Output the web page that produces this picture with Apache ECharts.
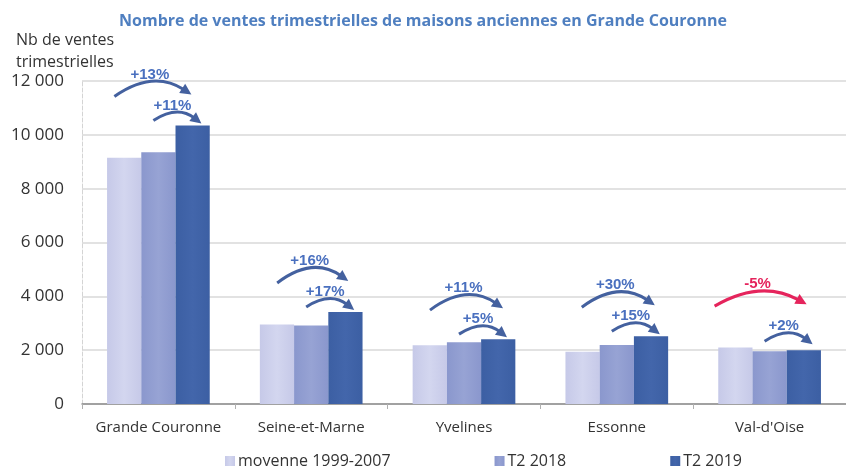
<!DOCTYPE html>
<html>
<head>
<meta charset="utf-8">
<script src="https://cdn.jsdelivr.net/npm/echarts@6/dist/echarts.min.js"></script>
<style>
  html, body { margin: 0; padding: 0; background: #fff; }
  #chart { width: 846px; height: 466px; }
</style>
</head>
<body>
<div id="chart"></div>
<script>
// Données
const categories = ['Grande Couronne', 'Seine-et-Marne', 'Yvelines', 'Essonne', "Val-d'Oise"]
const moyenne = [9150, 2950, 2180, 1940, 2100]
const t2018 = [9350, 2920, 2290, 2190, 1960]
const t2019 = [10350, 3420, 2410, 2520, 2000]
const evolMoyenne = ['+13%', '+16%', '+11%', '+30%', '-5%']
const evolAnnuelle = ['+11%', '+17%', '+5%', '+15%', '+2%']
const yTicks = [0, 2000, 4000, 6000, 8000, 10000, 12000]

const FONT = '"Open Sans", "Liberation Sans", sans-serif'
const BLUE_ARROW = '#44619f'
const BLUE_TEXT = '#4a70bf'
const RED = '#e5245c'

const chart = echarts.init(document.getElementById('chart'))

const barGradient = (edge, mid) => ({
  type: 'linear', x: 0, y: 0, x2: 1, y2: 0,
  colorStops: [
    { offset: 0, color: edge },
    { offset: 0.5, color: mid },
    { offset: 1, color: edge }
  ]
})

const fmt = v => String(v).replace(/\B(?=(\d{3})+(?!\d))/g, ' ')

const barSeries = (name, data, edge, mid) => ({
  name,
  type: 'bar',
  data,
  barWidth: '22.4%',
  barGap: '0%',
  itemStyle: { color: barGradient(edge, mid) },
  emphasis: { disabled: true }
})

chart.setOption({
  animation: false,
  textStyle: { fontFamily: FONT },
  title: [
    {
      text: 'Nombre de ventes trimestrielles de maisons anciennes en Grande Couronne',
      left: 'center',
      top: 8,
      textStyle: { fontFamily: FONT, fontSize: 16, fontWeight: 'bold', color: '#4f7fc0' }
    },
    {
      text: 'Nb de ventes\ntrimestrielles',
      left: 11,
      top: 24,
      textStyle: { fontFamily: FONT, fontSize: 16, fontWeight: 'normal', color: '#333', lineHeight: 22 }
    }
  ],
  legend: {
    bottom: -8,
    left: 220,
    itemGap: 104,
    itemWidth: 10,
    itemHeight: 10,
    icon: 'rect',
    textStyle: { fontFamily: FONT, fontSize: 16, color: '#333', padding: [0, 0, 0, -2] },
    data: ['moyenne 1999-2007', 'T2 2018', 'T2 2019']
  },
  grid: { left: 82, right: -18, top: 81, bottom: 62, containLabel: false },
  xAxis: {
    type: 'category',
    data: categories,
    axisLine: { lineStyle: { color: '#8c8c8c', width: 1.5 } },
    axisTick: { show: true, length: 5, lineStyle: { color: '#b0b0b0' } },
    axisLabel: { interval: 0, fontFamily: FONT, fontSize: 15, color: '#333', margin: 16 }
  },
  yAxis: {
    type: 'value',
    min: yTicks[0],
    max: yTicks[yTicks.length - 1],
    interval: yTicks[1] - yTicks[0],
    axisLine: { show: true, lineStyle: { color: '#d4d4d4', type: 'dashed' } },
    axisTick: { show: false },
    splitLine: { lineStyle: { color: '#d9d9d9', width: 1.5 } },
    axisLabel: { fontFamily: FONT, fontSize: 17, color: '#333', margin: 18, formatter: fmt }
  },
  series: [
    barSeries('moyenne 1999-2007', moyenne, '#c6c9e8', '#d3d6ef'),
    barSeries('T2 2018', t2018, '#8a97cd', '#97a3d4'),
    barSeries('T2 2019', t2019, '#3c5fa3', '#4366ab')
  ]
})

// Flèches d'évolution, positionnées depuis les barres
const topStart = [-44, -34, -34, -35, -55]
const topEnd = [33, 37, 39, 38, 37]
const topLift = [0, 0, 0, 0, 15]
const lowLift = [0, 0, 0, 0, 4]

function arrow (x1, y1, x2, y2, peak, color, width) {
  const cx = (x1 + x2) / 2
  const cy = 2 * peak - (y1 + y2) / 2
  let dx = x2 - cx
  let dy = y2 - cy
  const len = Math.hypot(dx, dy)
  dx /= len; dy /= len
  const nx = -dy
  const ny = dx
  const head = 11
  const half = 5.5
  const ex = x2 - dx * (head - 2)
  const ey = y2 - dy * (head - 2)
  return [
    {
      type: 'bezierCurve',
      shape: { x1, y1, x2: ex, y2: ey, cpx1: cx, cpy1: cy },
      style: { stroke: color, lineWidth: width, fill: null },
      silent: true
    },
    {
      type: 'polygon',
      shape: {
        points: [
          [x2, y2],
          [x2 - dx * head + nx * half, y2 - dy * head + ny * half],
          [x2 - dx * head - nx * half, y2 - dy * head - ny * half]
        ]
      },
      style: { fill: color },
      silent: true
    }
  ]
}

function label (x, y, text, color) {
  return {
    type: 'text',
    x, y,
    style: {
      text,
      fill: color,
      font: 'bold 15px "Liberation Sans", Arial, sans-serif',
      align: 'center',
      verticalAlign: 'middle'
    },
    silent: true
  }
}

const elements = []
categories.forEach((c, i) => {
  const cx = chart.convertToPixel({ xAxisIndex: 0 }, i)
  const top = chart.convertToPixel({ yAxisIndex: 0 }, t2019[i])
  const negative = evolMoyenne[i].startsWith('-')
  const color = negative ? RED : BLUE_ARROW
  const textColor = negative ? RED : BLUE_TEXT

  // flèche haute : moyenne -> T2 2019
  const T = top - topLift[i]
  elements.push(...arrow(cx + topStart[i], T - 29, cx + topEnd[i], T - 31, T - 43, color, 3))
  elements.push(label(cx + (topStart[i] + topEnd[i]) / 2 - 3, T - 51, evolMoyenne[i], textColor))

  // flèche basse : T2 2018 -> T2 2019
  const L = top - lowLift[i]
  elements.push(...arrow(cx - 5, L - 5, cx + 43, L - 2, L - 12, BLUE_ARROW, 3))
  elements.push(label(cx + 14, L - 20, evolAnnuelle[i], BLUE_TEXT))
})

chart.setOption({ graphic: { elements } })
</script>
</body>
</html>
